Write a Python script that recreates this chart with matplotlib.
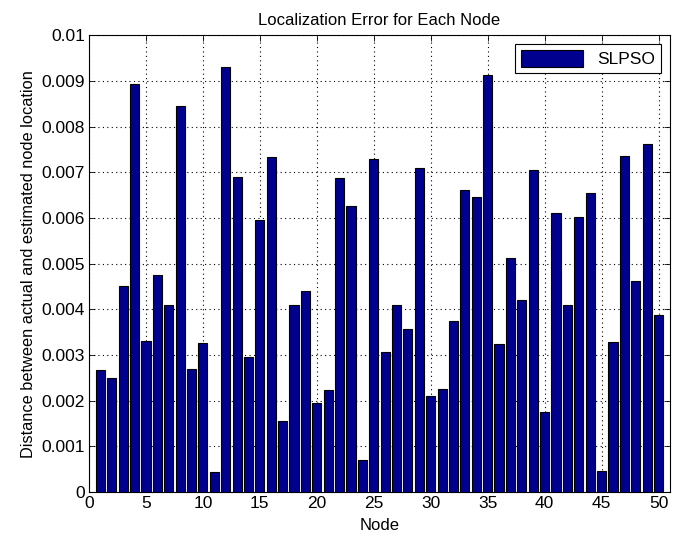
import numpy as np
import matplotlib
matplotlib.use("Agg")
import matplotlib.pyplot as plt

# Localization error per node
nodes = np.arange(1, 51)
errors = [
    0.00268, 0.00250, 0.00452, 0.00893, 0.00330, 0.00476, 0.00410, 0.00846, 0.00270, 0.00327,
    0.00043, 0.00930, 0.00690, 0.00295, 0.00595, 0.00733, 0.00155, 0.00410, 0.00440, 0.00195,
    0.00224, 0.00688, 0.00625, 0.00070, 0.00730, 0.00307, 0.00410, 0.00356, 0.00710, 0.00210,
    0.00225, 0.00375, 0.00662, 0.00645, 0.00912, 0.00325, 0.00513, 0.00420, 0.00705, 0.00175,
    0.00610, 0.00410, 0.00602, 0.00655, 0.00047, 0.00328, 0.00736, 0.00462, 0.00762, 0.00388,
]
x_ticks = [0, 5, 10, 15, 20, 25, 30, 35, 40, 45, 50]
y_ticks = [0, 0.001, 0.002, 0.003, 0.004, 0.005, 0.006, 0.007, 0.008, 0.009, 0.01]
y_tick_labels = ["0", "0.001", "0.002", "0.003", "0.004", "0.005",
                 "0.006", "0.007", "0.008", "0.009", "0.01"]

plt.rcParams.update({
    "font.family": ["Liberation Sans", "DejaVu Sans"],
    "xtick.direction": "in",
    "ytick.direction": "in",
    "xtick.top": True,
    "ytick.right": True,
})

fig = plt.figure(figsize=(6.81, 5.4), dpi=100)
ax = fig.add_axes([0.1307, 0.0889, 0.853, 0.846])

ax.bar(nodes, errors, width=0.8, color="#00008F", edgecolor="black",
       linewidth=0.8, label="SLPSO", zorder=3)

ax.set_xlim(0, 51)
ax.set_ylim(0, 0.01)
ax.set_xticks(x_ticks)
ax.set_yticks(y_ticks)
ax.set_yticklabels(y_tick_labels)
ax.tick_params(labelsize=12.5, length=4, width=0.6, pad=3)
ax.grid(True, linestyle=(0, (1, 3)), color="black", linewidth=0.8, zorder=0)

ax.set_title("Localization Error for Each Node", fontsize=12, pad=7)
ax.set_xlabel("Node", fontsize=12, labelpad=5)
ax.set_ylabel("Distance between actual and estimated node location",
              fontsize=11.8, labelpad=4)

leg = ax.legend(loc="upper right", fontsize=12.5, fancybox=False,
                framealpha=1, edgecolor="black", handlelength=3.6,
                handleheight=1.1, borderaxespad=0.5, borderpad=0.35)
leg.get_frame().set_linewidth(0.8)

for s in ax.spines.values():
    s.set_linewidth(0.8)

fig.savefig("out.png")
